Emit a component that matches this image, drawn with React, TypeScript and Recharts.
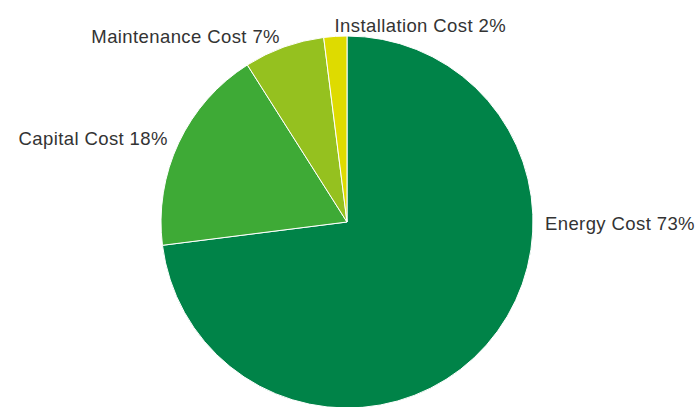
import React from 'react';
import { PieChart, Pie, Cell } from 'recharts';

const categories = ['Energy Cost', 'Capital Cost', 'Maintenance Cost', 'Installation Cost'];
const shares = [73, 18, 7, 2];
const COLORS = ['#008348', '#3eaa36', '#95c11f', '#dedb00'];

const data = categories.map((name, i) => ({ name, value: shares[i] }));

const RAD = Math.PI / 180;

const renderLabel = (props: any) => {
  const { cx, cy, midAngle, outerRadius, name, value } = props;
  // right-side labels are kept from dropping below the center line
  const cosM = Math.cos(midAngle * RAD);
  const angle = cosM > 0 ? Math.max(midAngle, 0) : midAngle;
  const r = outerRadius + 12;
  const x = cx + r * Math.cos(angle * RAD);
  const y = cy - r * Math.sin(angle * RAD) + 1;
  const anchor = Math.cos(angle * RAD) > -0.1 ? 'start' : 'end';
  return (
    <text
      x={x}
      y={y}
      textAnchor={anchor}
      dominantBaseline="central"
      fill="#333333"
      fontSize={18.5}
      letterSpacing={0.4}
      fontFamily="'Liberation Sans', Arial, sans-serif"
    >
      {`${name} ${value}%`}
    </text>
  );
};

export default function App() {
  return (
    <div style={{ position: 'absolute', left: 0, top: 0, width: 700, height: 407, background: '#fff' }}>
      <PieChart width={700} height={407} margin={{ top: 0, right: 0, bottom: 0, left: 0 }}>
        <Pie
          data={data}
          dataKey="value"
          nameKey="name"
          cx={347}
          cy={222}
          outerRadius={186}
          startAngle={90}
          endAngle={-270}
          stroke="#ffffff"
          strokeWidth={1}
          label={renderLabel}
          labelLine={false}
          isAnimationActive={false}
        >
          {data.map((entry, index) => (
            <Cell key={`cell-${index}`} fill={COLORS[index % COLORS.length]} />
          ))}
        </Pie>
      </PieChart>
    </div>
  );
}
